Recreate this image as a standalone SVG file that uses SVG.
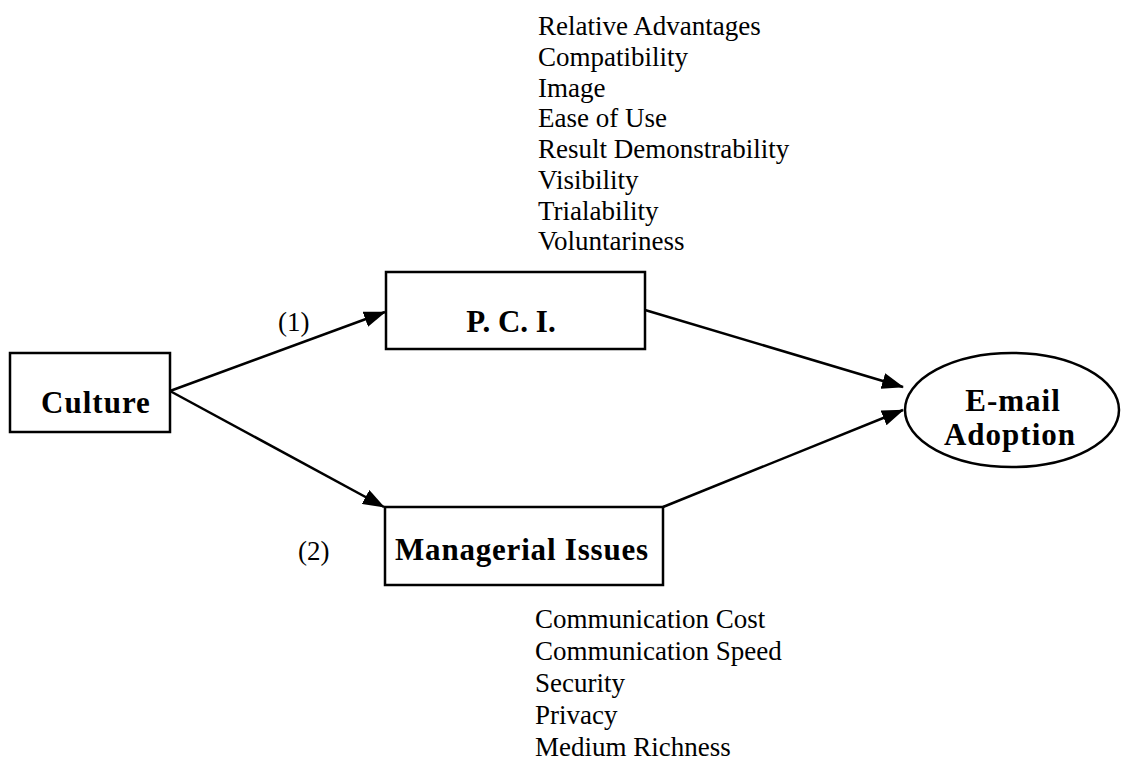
<svg xmlns="http://www.w3.org/2000/svg" width="1121" height="767" viewBox="0 0 1121 767">
  <style>
    .box { fill: #fff; stroke: #000; stroke-width: 2.5; }
    .title { font-family: "Liberation Serif", "Times New Roman", serif; font-weight: bold; font-size: 31px; fill: #000; }
    .item { font-family: "Liberation Serif", "Times New Roman", serif; font-size: 27px; fill: #000; }
    .edge { fill: none; stroke: #000; stroke-width: 2.5; marker-end: url(#head); }
  </style>
  <defs>
    <!-- solid triangular arrowhead, tip at the path end -->
    <marker id="head" viewBox="0 0 22 16" refX="21" refY="8" markerWidth="22" markerHeight="16" markerUnits="userSpaceOnUse" orient="auto">
      <path d="M0,0 L22,8 L0,16 z" fill="#000"/>
    </marker>
  </defs>
  <rect width="1121" height="767" fill="#fff"/>

  <!-- connectors -->
  <g id="connectors">
    <path class="edge" d="M170,391 L385,312"/>
    <path class="edge" d="M170,391 L384,507"/>
    <path class="edge" d="M645,310 L903,387"/>
    <path class="edge" d="M663,507 L903,410"/>
  </g>

  <!-- culture -->
  <g id="culture">
    <rect class="box" x="10" y="353" width="160" height="79"/>
    <text class="title" x="96" y="413" text-anchor="middle" letter-spacing="1">Culture</text>
  </g>

  <!-- perceived characteristics of innovating -->
  <g id="pci">
    <rect class="box" x="386" y="272" width="259" height="77"/>
    <text class="title" x="511" y="332" text-anchor="middle">P. C. I.</text>
  </g>

  <!-- managerial issues -->
  <g id="managerial">
    <rect class="box" x="385" y="507" width="278" height="78"/>
    <text class="title" x="522" y="560" text-anchor="middle" letter-spacing="0.8">Managerial Issues</text>
  </g>

  <!-- outcome -->
  <g id="adoption">
    <ellipse class="box" cx="1012" cy="410" rx="107" ry="57"/>
    <text class="title" x="1013" y="411" text-anchor="middle" letter-spacing="1">E-mail</text>
    <text class="title" x="1010" y="445" text-anchor="middle" letter-spacing="1">Adoption</text>
  </g>

  <!-- path labels -->
  <g id="path-labels" class="item">
    <text x="278" y="331">(1)</text>
    <text x="298" y="560">(2)</text>
  </g>

  <!-- attributes of P.C.I. -->
  <g id="pci-attributes" class="item">
    <text x="538" y="35">Relative Advantages</text>
    <text x="538" y="66">Compatibility</text>
    <text x="538" y="97">Image</text>
    <text x="538" y="127">Ease of Use</text>
    <text x="538" y="158">Result Demonstrability</text>
    <text x="538" y="189">Visibility</text>
    <text x="538" y="220">Trialability</text>
    <text x="538" y="250">Voluntariness</text>
  </g>

  <!-- managerial attributes -->
  <g id="managerial-attributes" class="item">
    <text x="535" y="628">Communication Cost</text>
    <text x="535" y="660">Communication Speed</text>
    <text x="535" y="692">Security</text>
    <text x="535" y="724">Privacy</text>
    <text x="535" y="756">Medium Richness</text>
  </g>
</svg>
